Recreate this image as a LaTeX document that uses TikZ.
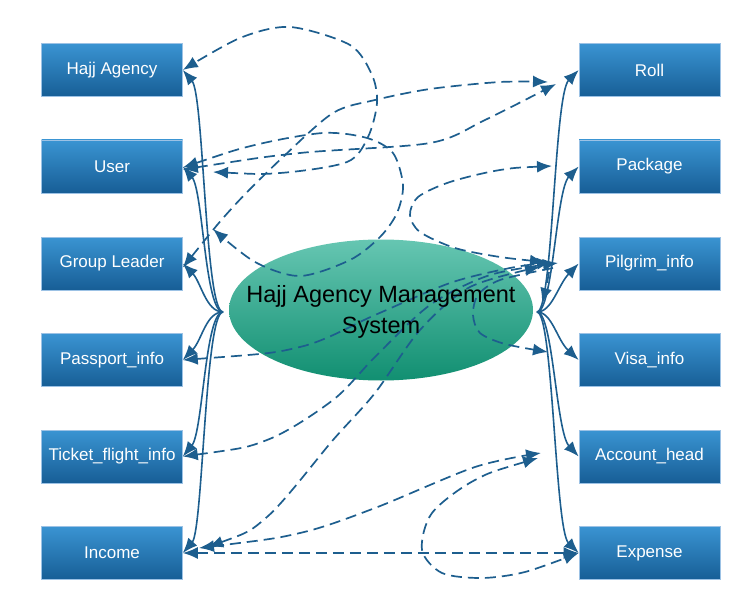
\documentclass[tikz,border=0pt]{standalone}
\usepackage{fontspec}
\setmainfont{Liberation Sans}
\usetikzlibrary{arrows.meta,shapes.geometric}
\definecolor{lc}{HTML}{1D5E8E}
\definecolor{boxtop}{HTML}{3A94D2}
\definecolor{boxmid}{HTML}{1E82C6}
\definecolor{boxbot}{HTML}{175E96}
\definecolor{boxedge}{HTML}{9CC2E5}
\definecolor{eltop}{HTML}{66C6B2}
\definecolor{elmid}{HTML}{1AB592}
\definecolor{elbot}{HTML}{118F71}
\tikzset{
  box/.style={rectangle, minimum width=141pt, minimum height=53pt, inner sep=0pt,
    draw=boxedge, line width=0.6pt, top color=boxtop, middle color=boxmid, bottom color=boxbot,
    text=white, font=\fontsize{17}{18}\selectfont},
  tipa/.tip={Latex[length=15pt,width=12pt]},
  sline/.style={draw=lc, line width=1.6pt, -tipa},
  dline/.style={draw=lc, line width=1.7pt, dash pattern=on 11pt off 6pt, -tipa},
  ddline/.style={draw=lc, line width=1.7pt, dash pattern=on 11pt off 6pt, tipa-tipa},
}
\begin{document}
\begin{tikzpicture}[x=1pt,y=-1pt]
\useasboundingbox (0,0) rectangle (750,607);
% ellipse
\node[ellipse, minimum width=304pt, minimum height=141pt, inner sep=0pt,
  top color=eltop, middle color=elmid, bottom color=elbot] (sys) at (381,310) {};
% boxes
\node[box] (ha) at (112,70) {Hajj Agency};
\node[box] (us) at (112,166.5) {User};
\node[box] (gl) at (112,263.5) {Group Leader};
\node[box] (pp) at (112,360) {Passport\_info};
\node[box] (tf) at (112,456.5) {Ticket\_flight\_info};
\node[box] (in) at (112,553) {Income};
\node[box] (ro) at (649.5,70) {Roll};
\node[box] (pk) at (649.5,166.5) {Package};
\node[box] (pi) at (649.5,263.5) {Pilgrim\_info};
\node[box] (vi) at (649.5,360) {Visa\_info};
\node[box] (ah) at (649.5,456.5) {Account\_head};
\node[box] (ex) at (649.5,553) {Expense};
% solid connectors
\coordinate (ls) at (223,312);
\coordinate (rs) at (537,312);
\draw[sline] (ls) .. controls (205,312) and (204,95) .. (ha.east);
\draw[sline] (ls) .. controls (205,312) and (203,190) .. (us.east);
\draw[sline] (ls) .. controls (206,312) and (201,282) .. (gl.east);
\draw[sline] (ls) .. controls (206,312) and (202,340) .. (pp.east);
\draw[sline] (ls) .. controls (205,312) and (203,432) .. (tf.east);
\draw[sline] (ls) .. controls (205,312) and (203,530) .. (in.east);
\draw[sline] (rs) .. controls (553,312) and (554,95) .. (ro.west);
\draw[sline] (rs) .. controls (553,312) and (556,190) .. (pk.west);
\draw[sline] (rs) .. controls (552,312) and (558,285) .. (pi.west);
\draw[sline] (rs) .. controls (552,312) and (557,340) .. (vi.west);
\draw[sline] (rs) .. controls (553,312) and (556,432) .. (ah.west);
\draw[sline] (rs) .. controls (553,312) and (555,530) .. (ex.west);
% dashed connectors
\draw[ddline] plot[smooth] coordinates {(213,172) (280,173) (347,162) (368,137) (377,103) (372,75) (350,45) (290,27) (240,38) (ha.east)};
\draw[ddline] plot[smooth] coordinates {([yshift=-4pt]gl.east) (233,207) (283,157) (333,113) (375,100) (430,89) (500,82) (548,82)};
\draw[ddline] plot[smooth] coordinates {([yshift=-3pt]us.east) (300,153) (430,143) (485,120) (556,84)};
\draw[ddline] plot[smooth] coordinates {([yshift=-1pt]us.east) (255,145) (323,133) (367,138) (393,153) (403,185) (397,213) (380,237) (350,260) (300,276) (255,262) (213,229)};
\draw[ddline] plot[smooth] coordinates {(552,166) (500,170) (450,182) (418,197) (410,215) (420,232) (455,248) (500,257) (545,262)};
\draw[ddline] plot[smooth] coordinates {(pp.east) (300,347) (375,315) (450,283) (510,268) (552,262)};
\draw[ddline] plot[smooth] coordinates {(tf.east) (267,440) (333,400) (375,357) (430,305) (490,275) (558,263)};
\draw[ddline] plot[smooth] coordinates {(208,547) (267,517) (333,440) (375,393) (420,330) (470,287) (540,267)};
\draw[dline] plot[smooth] coordinates {(553,268) (500,280) (478,295) (473,315) (480,333) (505,344) (548,352)};
\draw[dline] plot[smooth] coordinates {(549,272) (546,288) (542,303)};
\draw[ddline] plot[smooth] coordinates {(199,548) (300,533) (375,508) (475,467) (541,453)};
\draw[ddline] plot[smooth] coordinates {(538,458) (475,480) (432,513) (422,550) (442,573) (482,578) (525,572) (ex.west)};
\draw[ddline] (in.east) -- (ex.west);
% title
\node[font=\fontsize{23.5}{31}\selectfont, align=center, text=black] (systxt) at (381,312) {Hajj Agency Management\\System};
\end{tikzpicture}
\end{document}
